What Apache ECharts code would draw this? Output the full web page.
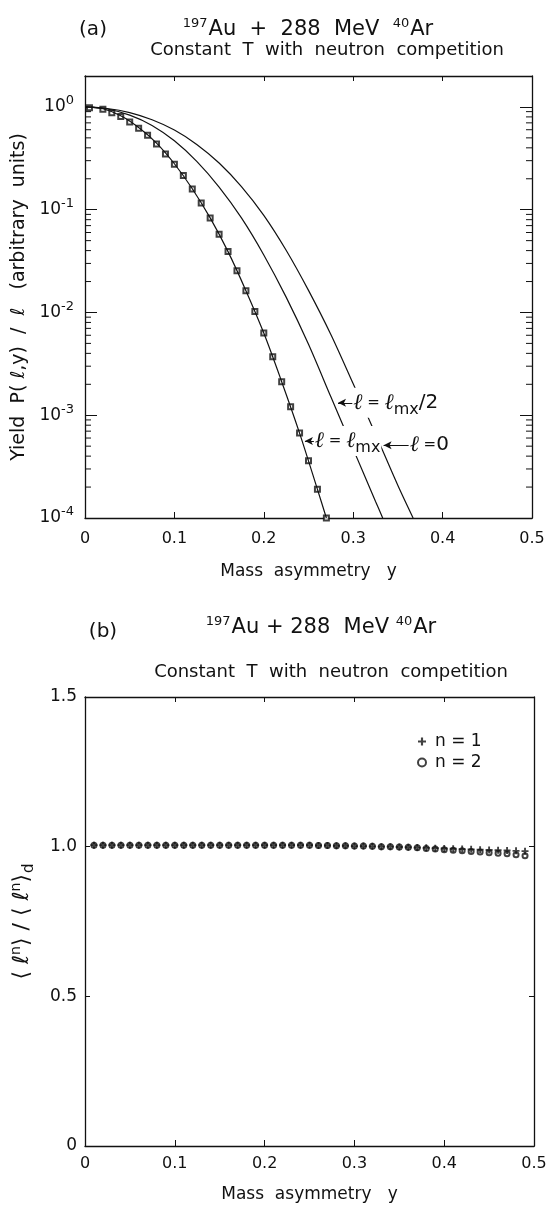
<!DOCTYPE html>
<html>
<head>
<meta charset="utf-8">
<title>Mass asymmetry</title>
<script src="https://cdn.jsdelivr.net/npm/echarts@6/dist/echarts.min.js"></script>
<style>
  html, body { margin: 0; padding: 0; background: #fff; }
  #chart { width: 551px; height: 1209px; }
</style>
</head>
<body>
<div id="chart"></div>
<script>
// ---- panel (a): yield vs mass asymmetry (log scale) ----
var squareX = [0.005, 0.02, 0.03, 0.04, 0.05, 0.06, 0.07, 0.08, 0.09, 0.10, 0.11, 0.12, 0.13, 0.14,
               0.15, 0.16, 0.17, 0.18, 0.19, 0.20, 0.21, 0.22, 0.23, 0.24, 0.25, 0.26, 0.27];
var squareY = [0.98, 0.95, 0.88, 0.805, 0.715, 0.62, 0.53, 0.436, 0.349, 0.277, 0.215, 0.159, 0.116, 0.0832,
               0.0577, 0.0391, 0.0255, 0.0163, 0.0102, 0.0063, 0.0037, 0.00212, 0.00121, 6.7e-4, 3.6e-4, 1.9e-4, 1.0e-4];

// l = lmx
var lmxX = [0, 0.02, 0.04, 0.06, 0.08, 0.10, 0.12, 0.14, 0.16, 0.18, 0.20, 0.22, 0.24, 0.26, 0.27];
var lmxY = [1.0, 0.96, 0.82, 0.63, 0.445, 0.28, 0.16, 0.0832, 0.0391, 0.0163, 0.0063, 0.00212, 6.7e-4, 1.9e-4, 1.0e-4];

// l = lmx/2
var halfX = [0, 0.025, 0.05, 0.075, 0.10, 0.125, 0.15, 0.175, 0.20, 0.225, 0.25, 0.275, 0.30, 0.325, 0.333];
var halfY = [1.0, 0.955, 0.832, 0.661, 0.468, 0.295, 0.166, 0.0832, 0.0363, 0.0141, 0.0049, 0.00151, 4.68e-4, 1.45e-4, 1.0e-4];

// l = 0
var zeroX = [0, 0.025, 0.05, 0.075, 0.10, 0.125, 0.15, 0.175, 0.20, 0.225, 0.25, 0.275, 0.30, 0.325, 0.35, 0.367];
var zeroY = [1.0, 0.966, 0.881, 0.750, 0.596, 0.432, 0.285, 0.168, 0.0881, 0.0403, 0.0164, 0.0061, 0.00202, 6.53e-4, 2.07e-4, 1.0e-4];

var decades = [1e-4, 1e-3, 1e-2, 1e-1, 1];

// ---- panel (b): moment ratio ----
var ratioX = [0.01, 0.02, 0.03, 0.04, 0.05, 0.06, 0.07, 0.08, 0.09, 0.10,
              0.11, 0.12, 0.13, 0.14, 0.15, 0.16, 0.17, 0.18, 0.19, 0.20,
              0.21, 0.22, 0.23, 0.24, 0.25, 0.26, 0.27, 0.28, 0.29, 0.30,
              0.31, 0.32, 0.33, 0.34, 0.35, 0.36, 0.37, 0.38, 0.39, 0.40,
              0.41, 0.42, 0.43, 0.44, 0.45, 0.46, 0.47, 0.48, 0.49];
var ratioN1 = [1.005, 1.005, 1.005, 1.005, 1.005, 1.005, 1.005, 1.005, 1.005, 1.005,
               1.005, 1.005, 1.005, 1.005, 1.005, 1.005, 1.005, 1.005, 1.005, 1.005,
               1.005, 1.005, 1.005, 1.005, 1.005, 1.004, 1.004, 1.003, 1.003, 1.002,
               1.002, 1.001, 1.000, 1.000, 0.999, 0.998, 0.997, 0.996, 0.995, 0.994,
               0.993, 0.992, 0.991, 0.990, 0.989, 0.988, 0.987, 0.986, 0.985];
var ratioN2 = [1.005, 1.005, 1.005, 1.005, 1.005, 1.005, 1.005, 1.005, 1.005, 1.005,
               1.005, 1.005, 1.005, 1.005, 1.005, 1.005, 1.005, 1.005, 1.005, 1.005,
               1.005, 1.005, 1.005, 1.005, 1.005, 1.004, 1.004, 1.003, 1.003, 1.002,
               1.002, 1.001, 1.000, 1.000, 0.999, 0.998, 0.996, 0.994, 0.992, 0.990,
               0.988, 0.986, 0.984, 0.982, 0.980, 0.978, 0.976, 0.973, 0.970];

var FONT = '"DejaVu Sans", sans-serif';
var INK = '#111';

function pairs(xs, ys) {
    return xs.map(function (x, i) { return [x, ys[i]]; });
}

// minor ticks 2..9 in each decade
var minorTicks = [];
decades.slice(0, 4).forEach(function (d) {
    for (var m = 2; m <= 9; m++) minorTicks.push([0, m * d]);
});

var chart = echarts.init(document.getElementById('chart'));

var supRich = {
    b: {fontSize: 17, fontFamily: FONT, color: INK},
    s: {fontSize: 13, fontFamily: FONT, color: INK, padding: [0, 1, 12, 0]}
};

function titleText(str, x, y, size) {
    return {
        type: 'text', x: x, y: y,
        style: {
            text: str, fill: INK, fontSize: size, fontFamily: FONT,
            align: 'center', verticalAlign: 'middle',
            rich: {s: {fontSize: 13, fontFamily: FONT, fill: INK, padding: [0, 1, 12, 0]}}
        }
    };
}

var lineStyle = {color: INK, width: 1.2};
var frame = {onZero: false, lineStyle: {color: INK, width: 1.3}};

function xAxisPair(grid, gap, margin) {
    return [{
        gridIndex: grid, type: 'value', position: 'bottom', min: 0, max: 0.5, interval: 0.1,
        axisLine: frame,
        axisTick: {inside: true, length: 6, lineStyle: {color: INK}},
        axisLabel: {
            color: INK, fontSize: 16, fontFamily: FONT, margin: margin,
            formatter: function (v) { return v === 0 ? '0' : v.toFixed(1); }
        },
        splitLine: {show: false},
        name: 'Mass  asymmetry   y', nameLocation: 'middle', nameGap: gap,
        nameTextStyle: {color: INK, fontSize: 17, fontFamily: FONT}
    }, {
        gridIndex: grid, type: 'value', position: 'top', min: 0, max: 0.5, interval: 0.1,
        axisLine: frame,
        axisTick: {inside: true, length: 5, lineStyle: {color: INK}},
        axisLabel: {show: false}, splitLine: {show: false}
    }];
}

var option = {
    backgroundColor: '#fff',
    animation: false,
    grid: [
        {left: 85, top: 76, width: 447, height: 442},
        {left: 85, top: 697, width: 449, height: 449}
    ],
    graphic: [
        titleText('(a)', 93, 30, 20),
        titleText('{s|197}Au  +  288  MeV  {s|40}Ar', 308, 30, 21),
        titleText('Constant  T  with  neutron  competition', 327, 50, 18),
        titleText('(b)', 103, 632, 20),
        titleText('{s|197}Au + 288  MeV {s|40}Ar', 321, 628, 21),
        titleText('Constant  T  with  neutron  competition', 331, 672, 18)
    ],
    legend: {
        orient: 'vertical', left: 417, top: 733, itemWidth: 8, itemHeight: 8, itemGap: 4,
        padding: 0, selectedMode: false,
        textStyle: {color: INK, fontSize: 17, fontFamily: FONT, padding: [0, 0, 0, 4]},
        data: ['n = 1', 'n = 2']
    },
    xAxis: xAxisPair(0, 45, 13).concat(xAxisPair(1, 40, 10)),
    yAxis: [{
        gridIndex: 0, type: 'log', logBase: 10, min: 1e-4, max: 2, position: 'left',
        axisLine: frame,
        axisTick: {inside: true, length: 12, lineStyle: {color: INK}},
        axisLabel: {
            color: INK, margin: 10, rich: supRich,
            formatter: function (v) {
                var e = Math.round(Math.log10(v));
                if (Math.abs(v / Math.pow(10, e) - 1) > 1e-6) return '';
                return '{b|10}{s|' + e + '}';
            }
        },
        splitLine: {show: false},
        name: 'Yield  P( ℓ,y)  /  ℓ   (arbitrary  units)', nameLocation: 'middle', nameGap: 52,
        nameTextStyle: {color: INK, fontSize: 19, fontFamily: FONT}
    }, {
        gridIndex: 0, type: 'log', logBase: 10, min: 1e-4, max: 2, position: 'right',
        axisLine: frame,
        axisTick: {inside: true, length: 12, lineStyle: {color: INK}},
        axisLabel: {show: false}, splitLine: {show: false}
    }, {
        gridIndex: 1, type: 'value', min: 0, max: 1.5, interval: 0.5, position: 'left',
        axisLine: frame,
        axisTick: {inside: true, length: 5, lineStyle: {color: INK}},
        axisLabel: {
            color: INK, fontSize: 17, fontFamily: FONT, margin: 8,
            formatter: function (v) { return v === 0 ? '0' : v.toFixed(1); }
        },
        splitLine: {show: false},
        name: '{t|⟨ ℓ}{s|n}{t|⟩ / ⟨ ℓ}{s|n}{t|⟩}{d|d}', nameLocation: 'middle', nameGap: 48,
        nameTextStyle: {
            color: INK, fontSize: 22, fontFamily: FONT,
            rich: {
                t: {fontSize: 22, fontFamily: FONT, color: INK},
                s: {fontSize: 14, fontFamily: FONT, color: INK, padding: [0, 0, 12, 0]},
                d: {fontSize: 15, fontFamily: FONT, color: INK, padding: [14, 0, 0, 1]}
            }
        }
    }, {
        gridIndex: 1, type: 'value', min: 0, max: 1.5, interval: 0.5, position: 'right',
        axisLine: frame,
        axisTick: {inside: true, length: 5, lineStyle: {color: INK}},
        axisLabel: {show: false}, splitLine: {show: false}
    }],
    series: [{
        type: 'custom', name: 'minor', xAxisIndex: 0, yAxisIndex: 0, silent: true, clip: false,
        data: minorTicks,
        renderItem: function (params, api) {
            var v = api.value(1);
            var p0 = api.coord([0, v]);
            var p1 = api.coord([0.5, v]);
            return {
                type: 'group',
                children: [
                    {type: 'line', shape: {x1: p0[0], y1: p0[1], x2: p0[0] + 6, y2: p0[1]},
                     style: {stroke: INK, lineWidth: 1}},
                    {type: 'line', shape: {x1: p1[0] - 6, y1: p1[1], x2: p1[0], y2: p1[1]},
                     style: {stroke: INK, lineWidth: 1}}
                ]
            };
        }
    }, {
        type: 'line', name: 'l=0', xAxisIndex: 0, yAxisIndex: 0, smooth: 0.3, showSymbol: false,
        lineStyle: lineStyle, data: pairs(zeroX, zeroY), silent: true
    }, {
        type: 'line', name: 'l=lmx/2', xAxisIndex: 0, yAxisIndex: 0, smooth: 0.3, showSymbol: false,
        lineStyle: lineStyle, data: pairs(halfX, halfY), silent: true
    }, {
        type: 'line', name: 'l=lmx', xAxisIndex: 0, yAxisIndex: 0, smooth: 0.3, showSymbol: false,
        lineStyle: lineStyle, data: pairs(lmxX, lmxY), silent: true,
        markLine: {
            silent: true, symbol: ['none', 'arrow'], symbolSize: [6, 8],
            label: {show: false}, lineStyle: {color: INK, width: 1, type: 'solid'},
            data: [
                [{coord: [0.300, 1.32e-3]}, {coord: [0.283, 1.32e-3]}],
                [{coord: [0.258, 5.6e-4]}, {coord: [0.246, 5.6e-4]}],
                [{coord: [0.366, 5.1e-4]}, {coord: [0.334, 5.1e-4]}]
            ]
        },
        markPoint: {
            silent: true, symbol: 'circle', symbolSize: 0,
            label: {
                show: true, position: 'right', distance: 0, color: INK,
                backgroundColor: '#fff', padding: [0, 1],
                rich: {
                    l: {fontSize: 22, fontFamily: '"DejaVu Serif", serif', fontStyle: 'italic', color: INK},
                    e: {fontSize: 15, fontFamily: FONT, color: INK},
                    m: {fontSize: 16, fontFamily: FONT, color: INK, padding: [14, 0, 0, 0]},
                    d: {fontSize: 20, fontFamily: FONT, color: INK}
                }
            },
            data: [
                {coord: [0.299, 1.32e-3], label: {formatter: '{l|ℓ}{e| = }{l|ℓ}{m|mx}{d|/2}'}},
                {coord: [0.256, 5.6e-4], label: {formatter: '{l|ℓ}{e| = }{l|ℓ}{m|mx}'}},
                {coord: [0.362, 5.1e-4], label: {formatter: '{l|ℓ}{e| =}{d|0}'}}
            ]
        }
    }, {
        type: 'scatter', name: 'squares', xAxisIndex: 0, yAxisIndex: 0, symbol: 'emptyRect', symbolSize: 5,
        itemStyle: {color: INK, borderColor: INK, borderWidth: 1}, data: pairs(squareX, squareY), silent: true
    }, {
        type: 'scatter', name: 'n = 2', xAxisIndex: 2, yAxisIndex: 2, symbol: 'emptyCircle', symbolSize: 5,
        itemStyle: {color: INK, borderColor: INK, borderWidth: 1.2}, data: pairs(ratioX, ratioN2), silent: true
    }, {
        type: 'scatter', name: 'n = 1', xAxisIndex: 2, yAxisIndex: 2,
        symbol: 'path://M-0.8,-3H0.8V-0.8H3V0.8H0.8V3H-0.8V0.8H-3V-0.8H-0.8Z', symbolSize: 7,
        itemStyle: {color: INK}, data: pairs(ratioX, ratioN1), silent: true
    }]
};

chart.setOption(option);
window.onresize = function () { chart.resize(); };
</script>
</body>
</html>
